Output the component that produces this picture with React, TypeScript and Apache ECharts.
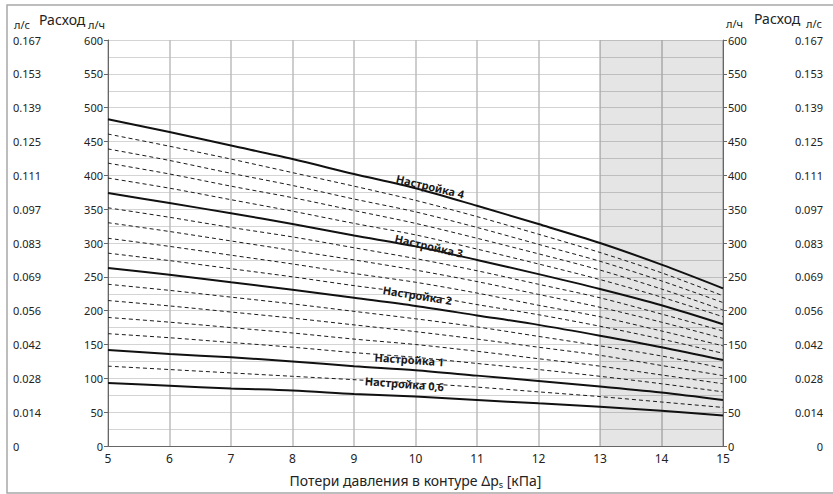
import React, { useEffect, useRef } from 'react';
import * as echarts from 'echarts';

// Pressure loss in the circuit, kPa (x axis)
const pressureLoss = [5, 6, 7, 8, 9, 10, 11, 12, 13, 14, 15];

// Flow tick labels in l/s matching 0..600 l/h every 50
const lsTickLabels = ['0', '0.014', '0.028', '0.042', '0.056', '0.069', '0.083', '0.097', '0.111', '0.125', '0.139', '0.153', '0.167'];

// Shaded range (kPa)
const shadeRange = [13, 15];

// Flow, l/h, for every presetting
const setting4 = [483, 464, 444, 424, 402, 381, 355, 328, 300, 268, 233];
const setting38 = [461, 443, 424, 404, 384, 363, 339, 313, 286, 256, 222];
const setting36 = [439, 422, 403, 385, 365, 346, 323, 298, 273, 244, 212];
const setting34 = [418, 402, 384, 367, 348, 329, 307, 284, 260, 232, 201];
const setting32 = [396, 381, 364, 347, 329, 312, 291, 269, 246, 220, 191];
const setting3 = [374, 359, 344, 328, 311, 295, 275, 254, 232, 208, 180];
const setting28 = [352, 338, 323, 309, 293, 277, 259, 239, 219, 195, 170];
const setting26 = [330, 317, 303, 289, 275, 260, 243, 224, 205, 183, 159];
const setting24 = [307, 295, 282, 269, 255, 242, 226, 208, 191, 170, 148];
const setting22 = [285, 274, 262, 250, 237, 225, 209, 194, 177, 158, 137];
const setting2 = [263, 253, 242, 231, 219, 207, 193, 179, 163, 146, 127];
const setting18 = [239, 230, 220, 210, 199, 188, 176, 162, 148, 133, 115];
const setting16 = [215, 207, 198, 189, 179, 169, 158, 146, 134, 119, 104];
const setting14 = [190, 183, 175, 167, 158, 150, 140, 129, 118, 105, 92];
const setting12 = [166, 160, 153, 146, 138, 131, 122, 113, 103, 92, 80];
const setting1 = [142, 136, 131, 125, 118, 112, 104, 96, 88, 79, 68];
const setting08 = [118, 113, 108, 103, 98, 93, 87, 80, 73, 65, 57];
const setting06 = [93, 89, 85, 82, 77, 73, 68, 63, 58, 52, 45];

const curves = [
  { name: 'Настройка 4', data: setting4, main: true },
  { name: '3.8', data: setting38, main: false },
  { name: '3.6', data: setting36, main: false },
  { name: '3.4', data: setting34, main: false },
  { name: '3.2', data: setting32, main: false },
  { name: 'Настройка 3', data: setting3, main: true },
  { name: '2.8', data: setting28, main: false },
  { name: '2.6', data: setting26, main: false },
  { name: '2.4', data: setting24, main: false },
  { name: '2.2', data: setting22, main: false },
  { name: 'Настройка 2', data: setting2, main: true },
  { name: '1.8', data: setting18, main: false },
  { name: '1.6', data: setting16, main: false },
  { name: '1.4', data: setting14, main: false },
  { name: '1.2', data: setting12, main: false },
  { name: 'Настройка 1', data: setting1, main: true },
  { name: '0.8', data: setting08, main: false },
  { name: 'Настройка 0,6', data: setting06, main: true },
];

// Curve labels: text and anchor in data coordinates
const labelTexts = ['Настройка 4', 'Настройка 3', 'Настройка 2', 'Настройка 1', 'Настройка 0,6'];
const labelX = [10.24, 10.22, 10.03, 9.9, 9.82];
const labelY = [384, 296, 223, 128, 92];
const labelAngle = [13.5, 13, 9, 4, 4.5];

const FONT = '"Noto Sans", "DejaVu Sans", sans-serif';

export default function App() {
  const ref = useRef<HTMLDivElement>(null);

  useEffect(() => {
    if (!ref.current) return;
    const chart = echarts.init(ref.current, null, { renderer: 'svg' });

    const yCommon = {
      type: 'value' as const,
      min: 0,
      max: 600,
      interval: 50,
    };

    const series: any[] = [
      {
        type: 'line',
        name: 'shade',
        data: [],
        silent: true,
        z: 1,
        markArea: {
          silent: true,
          itemStyle: { color: 'rgba(0,0,0,0.1)' },
          data: [[{ xAxis: shadeRange[0], yAxis: 0 }, { xAxis: shadeRange[1], yAxis: 600 }]],
        },
      },
      ...curves.map((c) => ({
        type: 'line',
        name: c.name,
        data: pressureLoss.map((x, i) => [x, c.data[i]]),
        symbol: 'none',
        smooth: 0.3,
        silent: true,
        z: c.main ? 4 : 3,
        lineStyle: c.main
          ? { color: '#111', width: 2, type: 'solid' }
          : { color: '#1a1a1a', width: 1, type: [4, 3] },
      })),
    ];

    chart.setOption({
      animation: false,
      backgroundColor: '#fff',
      textStyle: { fontFamily: FONT },
      grid: { left: 108, right: 110, top: 40, bottom: 37, containLabel: false },
      xAxis: {
        type: 'value',
        min: 5,
        max: 15,
        interval: 1,
        axisLine: { show: true, lineStyle: { color: '#666', width: 1 } },
        axisTick: { show: false },
        axisLabel: { fontSize: 12, color: '#222', margin: 6, lineHeight: 12, fontFamily: FONT },
        splitLine: { show: true, lineStyle: { color: '#bdbdbd', width: 1.5 } },
        name: 'Потери давления в контуре Δp{s|s} [кПа]',
        nameLocation: 'middle',
        nameGap: 25,
        nameTextStyle: {
          fontSize: 14,
          color: '#222',
          fontFamily: FONT,
          rich: { s: { fontSize: 9, color: '#222', fontFamily: FONT, padding: [9, 0, 0, 0] } },
        },
      },
      yAxis: [
        {
          ...yCommon,
          position: 'left',
          axisLine: { show: true, lineStyle: { color: '#666', width: 1 } },
          axisTick: { show: true, length: 4, lineStyle: { color: '#666' } },
          axisLabel: { fontSize: 11, color: '#222', margin: 5, lineHeight: 11, fontFamily: FONT },
          splitLine: { show: true, lineStyle: { color: '#d4d4d4', width: 1 } },
          minorTick: { show: false, splitNumber: 2 },
          minorSplitLine: { show: true, lineStyle: { color: '#d4d4d4', width: 1 } },
        },
        {
          ...yCommon,
          position: 'right',
          axisLine: { show: true, lineStyle: { color: '#666', width: 1 } },
          axisTick: { show: true, length: 4, lineStyle: { color: '#666' } },
          axisLabel: { fontSize: 11, color: '#222', margin: 5, lineHeight: 11, fontFamily: FONT },
          splitLine: { show: false },
        },
        {
          ...yCommon,
          position: 'left',
          axisLine: { show: false },
          axisTick: { show: false },
          splitLine: { show: false },
          axisLabel: {
            fontSize: 11,
            color: '#222',
            margin: 95,
            align: 'left',
            lineHeight: 11,
            fontFamily: FONT,
            formatter: (v: number) => lsTickLabels[Math.round(v / 50)] ?? '',
          },
        },
        {
          ...yCommon,
          position: 'right',
          axisLine: { show: false },
          axisTick: { show: false },
          splitLine: { show: false },
          axisLabel: {
            fontSize: 11,
            color: '#222',
            margin: 100,
            align: 'right',
            lineHeight: 11,
            fontFamily: FONT,
            formatter: (v: number) => lsTickLabels[Math.round(v / 50)] ?? '',
          },
        },
      ],
      series,
    });

    const headerStyle = (text: string, size: number) => ({
      text,
      fontSize: size,
      fontFamily: FONT,
      fill: '#222',
      verticalAlign: 'middle',
      align: 'left',
    });

    const graphics: any[] = [
      {
        type: 'rect',
        silent: true,
        z: -10,
        shape: { x: 7, y: 5, width: 840, height: 488 },
        style: { fill: 'none', stroke: '#a8a8a8', lineWidth: 1.5 },
      },
      { type: 'text', x: 14, y: 24, style: headerStyle('л/с', 11) },
      { type: 'text', x: 39, y: 19, style: headerStyle('Расход', 14) },
      { type: 'text', x: 88, y: 24, style: headerStyle('л/ч', 11) },
      { type: 'text', x: 726, y: 23, style: headerStyle('л/ч', 11) },
      { type: 'text', x: 754, y: 18, style: headerStyle('Расход', 14) },
      { type: 'text', x: 806, y: 23, style: headerStyle('л/с', 11) },
    ];

    labelTexts.forEach((t, i) => {
      const p = chart.convertToPixel({ xAxisIndex: 0, yAxisIndex: 0 }, [labelX[i], labelY[i]]) as number[];
      graphics.push({
        type: 'text',
        x: p[0],
        y: p[1],
        rotation: (-labelAngle[i] * Math.PI) / 180,
        z: 10,
        style: {
          text: t,
          fontSize: 11,
          fontWeight: 'bold',
          fontFamily: FONT,
          fill: '#1a1a1a',
          align: 'center',
          verticalAlign: 'middle',
        },
      });
    });

    chart.setOption({ graphic: graphics });

    return () => chart.dispose();
  }, []);

  return (
    <div
      ref={ref}
      style={{ position: 'fixed', left: 0, top: 0, width: 833, height: 494, background: '#fff' }}
    />
  );
}
